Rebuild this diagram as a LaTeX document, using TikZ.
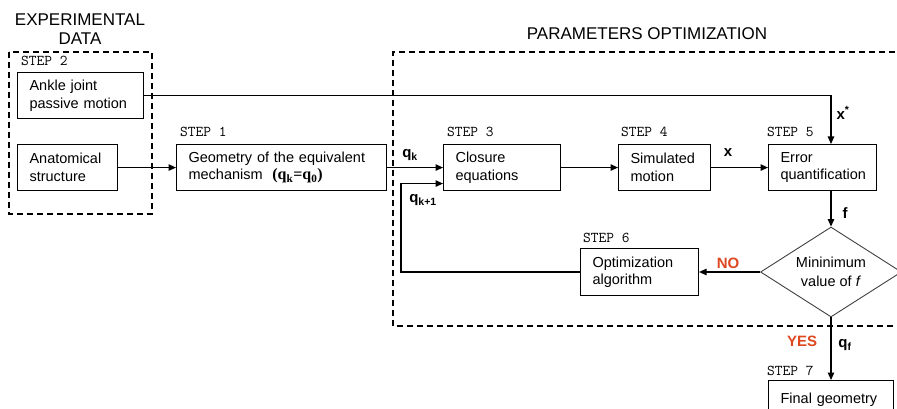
\documentclass[tikz,border=0pt]{standalone}
\usepackage{fontspec}
\setmainfont{Liberation Sans}
\newfontfamily\serf{Liberation Serif}
\usetikzlibrary{arrows.meta,shapes.geometric}
\definecolor{nored}{RGB}{222,72,32}
\begin{document}
\begin{tikzpicture}[x=1pt,y=-1pt,
  box/.style={draw, line width=1.1pt, anchor=north west, inner xsep=12pt, inner ysep=0pt,
    minimum height=46pt, align=left, font=\fontsize{14.5}{17.5}\selectfont},
  steplbl/.style={anchor=base west, inner sep=0pt, font=\ttfamily\fontsize{15}{15}\selectfont},
  conn/.style={line width=1.1pt, -{Triangle[length=7.5pt,width=6.5pt]}},
  dashbox/.style={line width=1.1pt, dash pattern=on 6pt off 4pt},
  lbl/.style={inner sep=0pt, font=\bfseries\fontsize{15}{15}\selectfont},
  header/.style={align=center, inner sep=0pt, font=\fontsize{17}{19}\selectfont}]
\useasboundingbox (0,0) rectangle (897,409);
\clip (0,0) rectangle (897,409);

% headers
\node[header] (hexp) at (80,29) {EXPERIMENTAL\\DATA};
\node[header] (hpar) at (647,34) {PARAMETERS OPTIMIZATION};

% dashed groups
\draw[dashbox] (9,52) rectangle (152,214);
\draw[dashbox] (905,52) -- (393,52) -- (393,326) -- (905,326);

% boxes
\node[box, text width=102pt] (ankle) at (17,72) {Ankle joint\\passive motion};
\node[box, text width=76pt] (anat) at (17,144) {Anatomical\\structure};
\node[box, text width=186pt] (s1) at (176,144) {Geometry of the equivalent\\mechanism\ \ {\serf\bfseries\fontsize{16}{17.5}\selectfont (q\textsubscript{k}=q\textsubscript{0})}};
\node[box, text width=93pt] (s3) at (443,144) {Closure\\equations};
\node[box, text width=68pt] (s4) at (618,144) {Simulated\\motion};
\node[box, text width=84pt] (s5) at (768,144) {Error\\quantification};
\node[box, text width=94pt, minimum height=47pt] (s6) at (580,248) {Optimization\\algorithm};
\node[box, text width=101pt, minimum height=52pt] (s7) at (768,380) {Final geometry\\\mbox{}};
\node[diamond, draw=black!75, line width=0.9pt, minimum width=141pt, minimum height=90pt, inner sep=0pt,
  shape aspect=1.57, align=center, font=\fontsize{14.5}{19.5}\selectfont] (dia) at (831,272)
  {Mininimum\\value of \textit{f}};

% step labels
\node[steplbl] (st2) at (21,66) {STEP 2};
\node[steplbl] (st1) at (180,137) {STEP 1};
\node[steplbl] (st3) at (447,137) {STEP 3};
\node[steplbl] (st4) at (621,137) {STEP 4};
\node[steplbl] (st5) at (767,137) {STEP 5};
\node[steplbl] (st6) at (583,242) {STEP 6};
\node[steplbl] (st7) at (767,375) {STEP 7};

% helper coordinates
\coordinate (cx) at (831,0);
\coordinate (fb) at (401,0);
\coordinate (fbin) at ([yshift=-16pt]s3.west);

% connectors
\draw[conn] (anat.east) -- (s1.west);
\draw[conn] (s1.east) -- (s3.west);
\draw[conn] (s3.east) -- (s4.west);
\draw[conn] (s4.east) -- (s5.west);
\draw[conn] (ankle.east) -| (s5.north -| cx);
\draw[conn] (s5.south -| cx) -- (dia.north);
\draw[conn] (dia.west) -- (dia.west -| s6.east);
\draw[conn] (s6.west |- dia.west) -- (fb |- dia.west) -- (fb |- fbin) -- (fbin);
\draw[conn] (dia.south) -- (s7.north -| cx);

% labels
\node[lbl] (lqk) at (410,155) {q\textsubscript{k}};
\node[lbl] (lqk1) at (423,200) {q\textsubscript{k+1}};
\node[lbl] (lx) at (728,153) {x};
\node[lbl] (lxs) at (843,113) {x\textsuperscript{*}};
\node[lbl] (lf) at (845,213) {f};
\node[lbl, text=nored] (lno) at (728,263) {NO};
\node[lbl, text=nored] (lyes) at (802,341) {YES};
\node[lbl] (lqf) at (845,345) {q\textsubscript{f}};
\end{tikzpicture}
\end{document}
